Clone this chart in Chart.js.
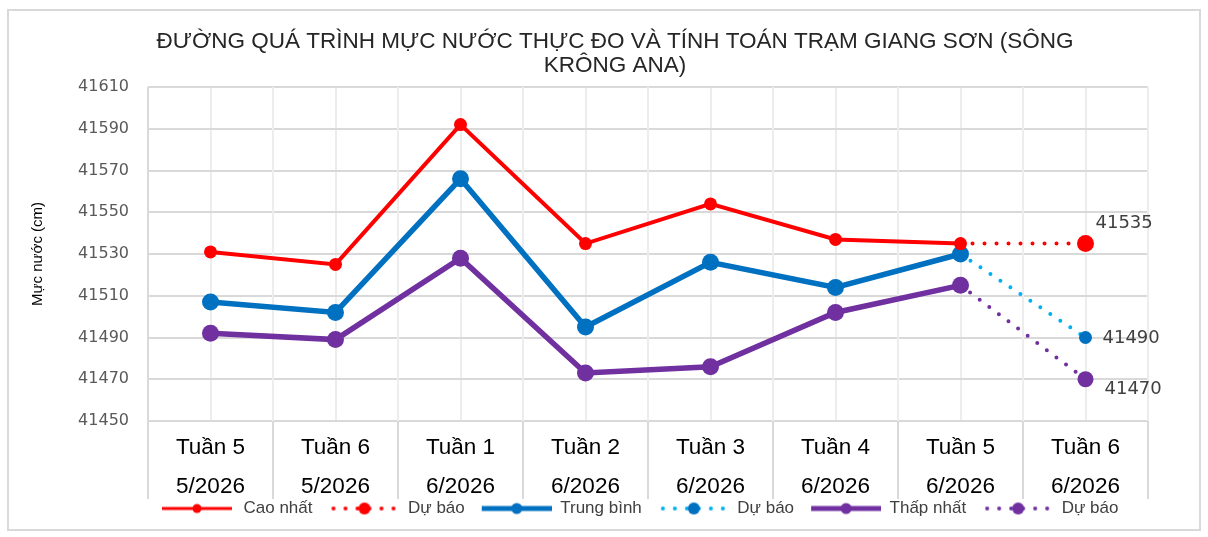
<!DOCTYPE html>
<html>
<head>
<meta charset="utf-8">
<script src="https://cdn.jsdelivr.net/npm/chart.js@4/dist/chart.umd.min.js"></script>
<style>
  html, body { margin: 0; padding: 0; background: #fff; }
  canvas { display: block; }
</style>
</head>
<body>
<canvas id="mucNuocChart" width="1208" height="537"></canvas>
<script>
const tuan = ['Tuần 5', 'Tuần 6', 'Tuần 1', 'Tuần 2', 'Tuần 3', 'Tuần 4', 'Tuần 5', 'Tuần 6'];
const thang = ['5/2026', '5/2026', '6/2026', '6/2026', '6/2026', '6/2026', '6/2026', '6/2026'];

const caoNhat = [41531, 41525, 41592, 41535, 41554, 41537, 41535, null];
const caoNhatDuBao = [null, null, null, null, null, null, 41535, 41535];
const trungBinh = [41507, 41502, 41566, 41495, 41526, 41514, 41530, null];
const trungBinhDuBao = [null, null, null, null, null, null, 41530, 41490];
const thapNhat = [41492, 41489, 41528, 41473, 41476, 41502, 41515, null];
const thapNhatDuBao = [null, null, null, null, null, null, 41515, 41470];

const yMin = 41450, yMax = 41610, yStep = 20;

const chu = "'Liberation Sans', Arial, sans-serif";
const so = "'DejaVu Sans', Verdana, sans-serif";

const DO = '#FF0000', XANH = '#0070C0', XANH_NHAT = '#00B0F0', TIM = '#7030A0';

// legend icon: line (solid or dotted) with a marker in the middle,
// with a blank strip on the left that acts as the gap before the item
function bieuTuong(le, mauDuong, mauCham, doDay, banKinh, chamTron) {
  const c = document.createElement('canvas');
  c.width = 70 + le; c.height = 16;
  const g = c.getContext('2d');
  g.strokeStyle = mauDuong;
  g.lineWidth = doDay;
  if (chamTron) { g.setLineDash([0, 12]); g.lineCap = 'round'; }
  g.beginPath();
  g.moveTo(le + (chamTron ? 4 : 0), 8);
  g.lineTo(le + (chamTron ? 66 : 70), 8);
  g.stroke();
  g.setLineDash([]);
  g.fillStyle = mauCham;
  g.beginPath();
  g.arc(le + 35, 8, banKinh, 0, Math.PI * 2);
  g.fill();
  return c;
}

const bieuTuongs = [
  bieuTuong(10, DO, DO, 3, 4.5, false),
  bieuTuong(16, DO, DO, 4, 6, true),
  bieuTuong(16, XANH, XANH, 5, 5.5, false),
  bieuTuong(16, XANH_NHAT, XANH, 4, 6, true),
  bieuTuong(16, TIM, TIM, 5, 5.5, false),
  bieuTuong(16, TIM, TIM, 4, 6, true)
];

const banKinhDuBao = r => [0, 0, 0, 0, 0, 0, 0, r];

const khung = {
  id: 'khung',
  beforeDraw(chart) {
    const ctx = chart.ctx;
    ctx.save();
    ctx.fillStyle = '#fff';
    ctx.fillRect(0, 0, chart.width, chart.height);
    ctx.strokeStyle = '#d9d9d9';
    ctx.lineWidth = 2;
    ctx.strokeRect(8, 10, 1192, 520);
    ctx.restore();
  }
};

// category boundaries: gridlines in the plot and separators under the axis
const vachChia = {
  id: 'vachChia',
  beforeDatasetsDraw(chart) {
    const { ctx, chartArea } = chart;
    const n = chart.data.labels.length;
    const w = chartArea.width / n;
    const day = chart.scales.x.height;
    ctx.save();
    ctx.lineWidth = 2;
    for (let i = 0; i <= n; i++) {
      const x = Math.round(chartArea.left + i * w);
      ctx.strokeStyle = i === 0 ? '#d9d9d9' : '#ededed';
      ctx.beginPath();
      ctx.moveTo(x, chartArea.top);
      ctx.lineTo(x, chartArea.bottom);
      ctx.stroke();
      ctx.strokeStyle = '#d9d9d9';
      ctx.beginPath();
      ctx.moveTo(x, chartArea.bottom);
      ctx.lineTo(x, chartArea.bottom + day);
      ctx.stroke();
    }
    ctx.restore();
  }
};

const nhanDuBao = {
  id: 'nhanDuBao',
  afterDatasetsDraw(chart) {
    const ctx = chart.ctx;
    ctx.save();
    ctx.font = '18px ' + so;
    ctx.fillStyle = '#404040';
    ctx.textAlign = 'left';
    ctx.textBaseline = 'middle';
    [[1, 10, -20], [3, 17, 1], [5, 19, 10]].forEach(([di, dx, dy]) => {
      const data = chart.data.datasets[di].data;
      const cuoi = data.length - 1;
      const pt = chart.getDatasetMeta(di).data[cuoi];
      ctx.fillText(String(data[cuoi]), pt.x + dx, pt.y + dy);
    });
    ctx.restore();
  }
};

new Chart(document.getElementById('mucNuocChart'), {
  type: 'line',
  data: {
    labels: tuan.map((t, i) => [t, thang[i]]),
    datasets: [
      { label: 'Cao nhất', data: caoNhat, borderColor: DO, backgroundColor: DO, borderWidth: 4, pointRadius: 6.5, pointBorderWidth: 0 },
      { label: 'Dự báo', data: caoNhatDuBao, borderColor: DO, backgroundColor: DO, borderWidth: 4, borderDash: [0, 12], borderCapStyle: 'round', pointRadius: banKinhDuBao(8.5), pointBorderWidth: 0 },
      { label: 'Trung bình', data: trungBinh, borderColor: XANH, backgroundColor: XANH, borderWidth: 5.5, pointRadius: 8.5, pointBorderWidth: 0 },
      { label: 'Dự báo', data: trungBinhDuBao, borderColor: XANH_NHAT, backgroundColor: XANH, borderWidth: 4, borderDash: [0, 12], borderCapStyle: 'round', pointRadius: banKinhDuBao(6.5), pointBorderWidth: 0 },
      { label: 'Thấp nhất', data: thapNhat, borderColor: TIM, backgroundColor: TIM, borderWidth: 5.5, pointRadius: 8.5, pointBorderWidth: 0 },
      { label: 'Dự báo', data: thapNhatDuBao, borderColor: TIM, backgroundColor: TIM, borderWidth: 4, borderDash: [0, 12], borderCapStyle: 'round', pointRadius: banKinhDuBao(8), pointBorderWidth: 0 }
    ]
  },
  options: {
    responsive: false,
    animation: false,
    layout: { padding: { left: 22, right: 0, top: 0, bottom: 10 } },
    plugins: {
      tooltip: { enabled: false },
      title: {
        display: true,
        text: ['ĐƯỜNG QUÁ TRÌNH MỰC NƯỚC THỰC ĐO VÀ TÍNH TOÁN TRẠM GIANG SƠN (SÔNG', 'KRÔNG ANA)'],
        color: '#262626',
        font: { family: chu, size: 22.5, weight: 'normal', lineHeight: '24px' },
        padding: { top: 30, bottom: 9 }
      },
      legend: {
        position: 'bottom',
        fullSize: false,
        align: 'start',
        labels: {
          usePointStyle: true,
          pointStyleWidth: 86,
          padding: 1,
          color: '#404040',
          font: { family: chu, size: 17 },
          generateLabels: chart => chart.data.datasets.map((ds, i) => ({
            text: ds.label,
            pointStyle: bieuTuongs[i],
            fillStyle: 'transparent',
            strokeStyle: 'transparent',
            lineWidth: 0,
            fontColor: '#404040',
            hidden: false,
            datasetIndex: i
          }))
        }
      }
    },
    scales: {
      x: {
        offset: true,
        grid: { offset: false, color: '#ededed', lineWidth: 2, drawTicks: false },
        border: { color: '#d9d9d9', width: 2 },
        ticks: {
          color: '#000',
          font: { family: chu, size: 22.5, lineHeight: '39px' },
          padding: 7,
          maxRotation: 0,
          autoSkip: false
        },
        afterFit(s) { s.height = 78; }
      },
      y: {
        min: yMin,
        max: yMax,
        grid: { color: '#d9d9d9', lineWidth: 2, drawTicks: false },
        border: { display: false },
        ticks: {
          stepSize: yStep,
          color: '#595959',
          padding: 19,
          font: { family: so, size: 16 },
          callback: v => String(v)
        },
        title: {
          display: true,
          text: 'Mực nước (cm)',
          color: '#000',
          font: { family: chu, size: 15 },
          padding: { top: 7, bottom: 0 }
        },
        afterFit(s) { s.width = 126; }
      },
      phai: {
        position: 'right',
        grid: { display: false, drawOnChartArea: false },
        border: { display: false },
        ticks: { display: false },
        afterFit(s) { s.width = 60; }
      }
    }
  },
  plugins: [khung, vachChia, nhanDuBao]
});
</script>
</body>
</html>
